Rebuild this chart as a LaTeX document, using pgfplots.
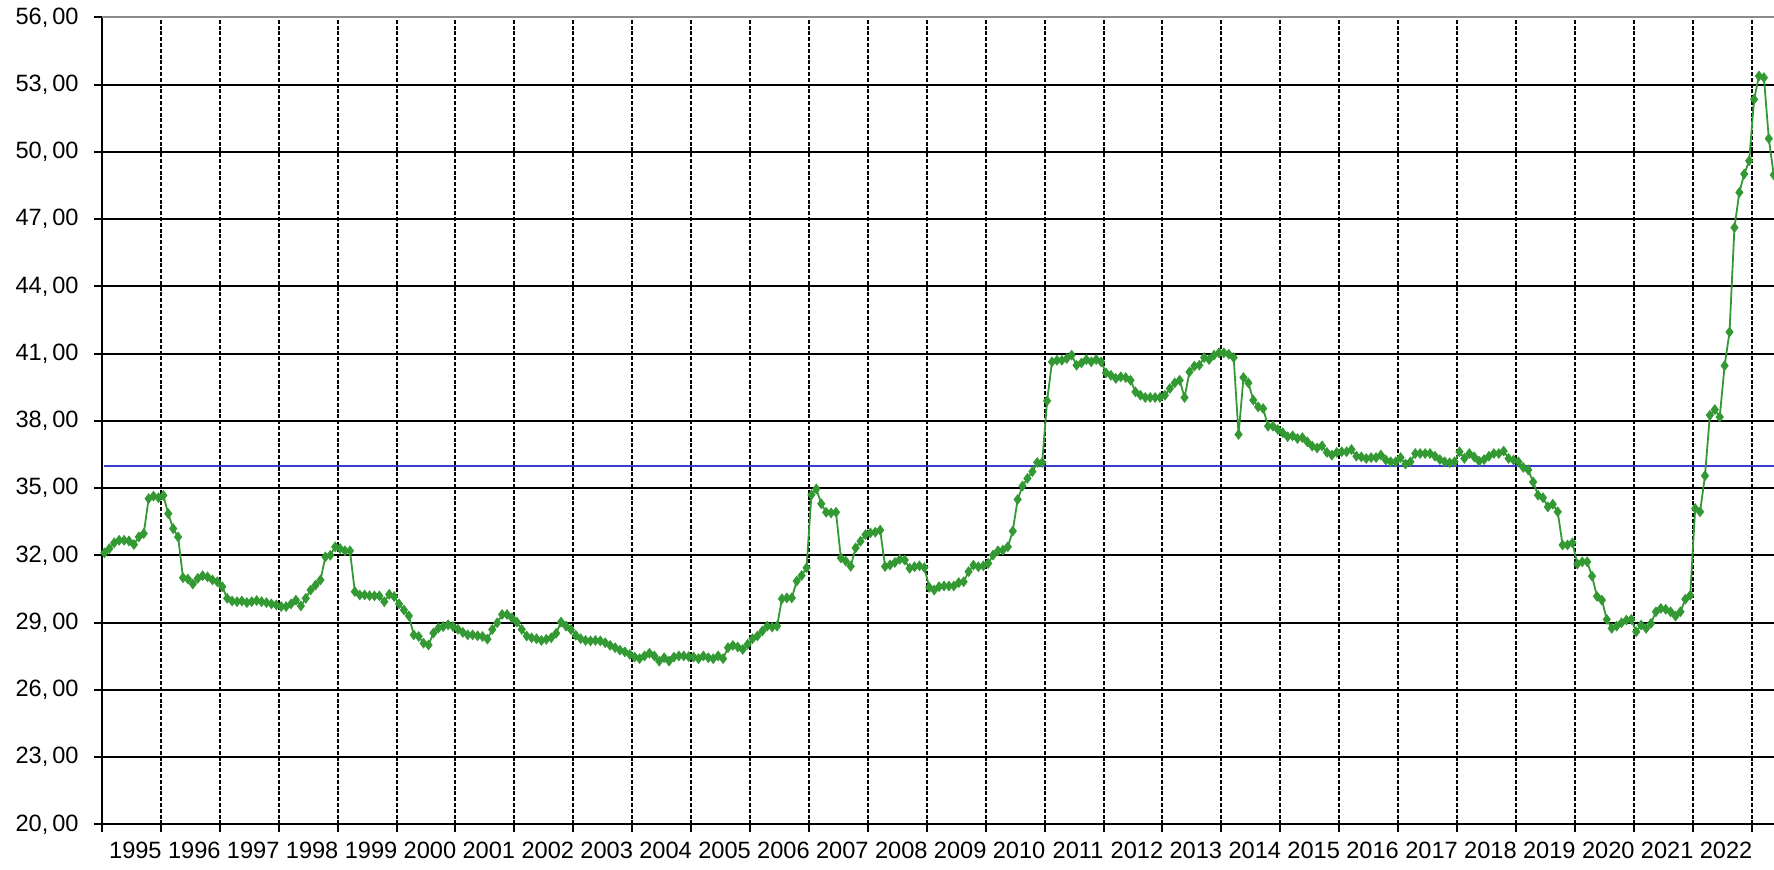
\documentclass[border=0pt]{standalone}
\usepackage{fontspec}
\setmainfont{Liberation Sans}
\usepackage{pgfplots}
\usepackage{pgfplotstable}
\pgfplotsset{compat=1.18}
\definecolor{lgreen}{RGB}{51,153,51}
\definecolor{lblue}{RGB}{60,60,205}
\definecolor{topgray}{RGB}{140,140,140}

\pgfplotstableread{
v
32.11
32.30
32.56
32.67
32.67
32.64
32.48
32.82
32.97
34.53
34.64
34.57
34.67
33.86
33.19
32.82
31.00
30.94
30.72
30.97
31.09
31.04
30.90
30.82
30.60
30.08
29.96
29.93
29.96
29.89
29.93
29.98
29.93
29.89
29.83
29.79
29.71
29.71
29.83
30.00
29.74
30.08
30.45
30.67
30.90
31.93
32.00
32.38
32.30
32.20
32.20
30.38
30.23
30.23
30.20
30.19
30.19
29.93
30.26
30.16
29.83
29.56
29.30
28.45
28.38
28.08
28.00
28.53
28.75
28.82
28.90
28.82
28.70
28.56
28.45
28.45
28.41
28.38
28.26
28.69
28.99
29.36
29.36
29.21
29.02
28.69
28.40
28.32
28.28
28.20
28.25
28.32
28.52
29.02
28.84
28.69
28.43
28.28
28.20
28.18
28.20
28.18
28.10
27.98
27.88
27.77
27.69
27.58
27.46
27.39
27.51
27.63
27.51
27.28
27.43
27.28
27.46
27.51
27.51
27.48
27.46
27.39
27.51
27.43
27.39
27.51
27.39
27.88
27.98
27.91
27.80
28.03
28.28
28.40
28.62
28.84
28.80
28.84
30.06
30.10
30.10
30.85
31.10
31.44
34.70
34.96
34.30
33.92
33.89
33.92
31.88
31.74
31.51
32.33
32.63
32.92
33.00
33.03
33.12
31.50
31.57
31.68
31.82
31.79
31.42
31.49
31.53
31.45
30.57
30.45
30.60
30.63
30.63
30.63
30.78
30.82
31.27
31.56
31.49
31.53
31.64
32.01
32.20
32.23
32.38
33.08
34.49
35.09
35.43
35.73
36.14
36.14
38.89
40.63
40.70
40.70
40.78
40.93
40.48
40.58
40.73
40.63
40.73
40.63
40.14
40.03
39.89
39.96
39.93
39.81
39.29
39.14
39.04
39.04
39.04
39.04
39.14
39.44
39.69
39.81
39.04
40.18
40.44
40.48
40.82
40.73
40.93
41.03
41.03
40.97
40.82
37.39
39.93
39.69
38.92
38.62
38.55
37.76
37.76
37.61
37.47
37.29
37.33
37.21
37.25
37.06
36.87
36.79
36.88
36.59
36.47
36.59
36.62
36.62
36.72
36.42
36.39
36.32
36.36
36.36
36.47
36.25
36.17
36.17
36.36
36.07
36.17
36.54
36.54
36.54
36.54
36.42
36.27
36.17
36.13
36.17
36.62
36.32
36.54
36.39
36.20
36.27
36.42
36.54
36.54
36.65
36.32
36.25
36.17
35.92
35.81
35.27
34.68
34.57
34.16
34.28
33.94
32.46
32.46
32.56
31.61
31.71
31.71
31.07
30.17
30.00
29.14
28.74
28.84
28.99
29.11
29.14
28.59
28.89
28.74
28.96
29.48
29.63
29.59
29.48
29.29
29.48
30.04
30.22
34.09
33.94
35.55
38.25
38.50
38.17
40.46
41.96
46.62
48.19
49.01
49.60
52.34
53.38
53.31
50.59
48.97
}\pricedata

\begin{document}
\fontsize{11.8}{14}\selectfont
\begin{tikzpicture}
\path[use as bounding box] (0,0) rectangle (887pt,434.5pt);
\begin{axis}[
  at={(51pt,22.35pt)}, anchor=south west,
  scale only axis, width=836pt, height=403.5pt,
  xmin=0, xmax=340.56, ymin=20, ymax=56,
  clip=false,
  axis x line*=bottom, axis y line*=left,
  axis line style={black, line width=1pt},
  xtick={0,12,...,336}, xticklabels={},
  extra x ticks={6.8,18.8,...,330.8},
  extra x tick labels={1995,1996,1997,1998,1999,2000,2001,2002,2003,2004,2005,2006,2007,2008,2009,2010,2011,2012,2013,2014,2015,2016,2017,2018,2019,2020,2021,2022},
  extra x tick style={major tick length=0pt, grid=none},
  ytick={20,23,...,56},
  tick align=outside, major tick length=4pt,
  tick style={black, line width=1pt},
  grid=major,
  x grid style={black, line width=1pt, dash pattern=on 2pt off 0.9pt},
  y grid style={black, line width=1pt},
  xticklabel style={anchor=north, inner sep=0pt, yshift=-8.5pt},
  yticklabel style={anchor=east, inner sep=0pt, xshift=-7.5pt},
  /pgf/number format/fixed,
  /pgf/number format/fixed zerofill,
  /pgf/number format/precision=2,
  /pgf/number format/set decimal separator={,\,},
  /pgf/number format/assume math mode=true,
]
\addplot[lblue, line width=0.9pt, no marks] coordinates {(0.5,35.98) (340.56,35.98)};
\addplot[lgreen, line width=0.9pt, mark=diamond*, mark size=2.4pt,
  mark options={solid, fill=lgreen, draw=lgreen, line width=0.4pt}]
  table[x expr=\coordindex+0.5, y=v] {\pricedata};
\draw[topgray, line width=1pt] (rel axis cs:0,1) -- (rel axis cs:1,1);
\end{axis}
\end{tikzpicture}
\end{document}
